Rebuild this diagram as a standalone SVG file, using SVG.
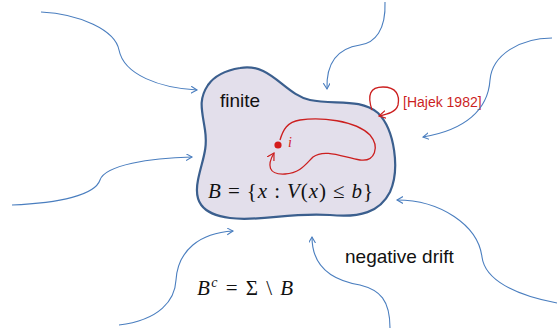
<svg xmlns="http://www.w3.org/2000/svg" width="558" height="334" viewBox="0 0 558 334">
<defs>
<style>
.conn{fill:none;stroke:#4a7ebf;stroke-width:1.1}
.red{fill:none;stroke:#cc1f1f;stroke-width:1.3}
.sans{font-family:"Liberation Sans",Arial,sans-serif;fill:#111}
.math{font-family:"Liberation Serif","Times New Roman",serif;fill:#111;font-size:21px}
.it{font-style:italic}
</style>
<marker id="ab" markerWidth="8" markerHeight="8" refX="6" refY="3.5" orient="auto" markerUnits="userSpaceOnUse">
<path d="M0,0 L6,3.5 L0,7" fill="none" stroke="#4a7ebf" stroke-width="1.1"/>
</marker>
<marker id="ar" markerWidth="9" markerHeight="9" refX="7" refY="4" orient="auto" markerUnits="userSpaceOnUse">
<path d="M0,0 L7,4 L0,8" fill="none" stroke="#cc1f1f" stroke-width="1.2"/>
</marker>
</defs>
<rect width="558" height="334" fill="#ffffff"/>
<g id="region-B">
<path d="M240,68 C270,62 285,95 310,100 C335,105 360,98 378,113 C395,130 400,170 390,192 C380,212 360,218 330,215 C290,212 260,222 230,218 C200,214 194,200 198,180 C202,160 208,150 205,130 C202,110 198,100 208,85 C215,75 228,70 240,68 Z" fill="#e3dfeb" stroke="#3b5f8e" stroke-width="2.2"/>
<text class="sans" x="220" y="107" font-size="19">finite</text>
<text class="math" x="208" y="198" textLength="165" lengthAdjust="spacing"><tspan class="it">B</tspan> = {<tspan class="it">x</tspan> : <tspan class="it">V</tspan>(<tspan class="it">x</tspan>) ≤ <tspan class="it">b</tspan>}</text>
</g>
<g id="trajectory">
<path class="red" d="M280,140 C283,130 287,122 300,120 C320,117 355,120 370,135 C380,147 375,162 360,160 C345,158 325,148 313,157 C305,165 300,173 285,174 C268,175 267,165 274,153" marker-end="url(#ar)"/>
<circle cx="278" cy="145" r="3.6" fill="#d41c1c"/>
<text x="288" y="147" font-family="Liberation Serif,serif" font-style="italic" font-size="14" fill="#d41c1c">i</text>
</g>
<g id="hajek">
<path class="red" d="M372,110 C367,95 370,87 383,87 C396,87 400,95 398,105 C396,112 388,114 379,116" marker-end="url(#ar)"/>
<text x="403" y="107" font-family="Liberation Sans,Arial,sans-serif" font-size="14" fill="#cc1f1f">[Hajek 1982]</text>
</g>
<g id="complement">
<text class="math" x="197" y="295" textLength="96" lengthAdjust="spacing"><tspan class="it">B</tspan><tspan class="it" font-size="14" dy="-8">c</tspan><tspan dy="8"> = Σ \ </tspan><tspan class="it">B</tspan></text>
</g>
<g id="drift">
<text class="sans" x="345" y="263" font-size="19">negative drift</text>
</g>
<g id="connectors">
<path class="conn" d="M41,12 C80,14 115,30 119,50 C124,75 160,88 197,90" marker-end="url(#ab)"/>
<path class="conn" d="M12,205 C60,203 95,195 100,180 C105,165 150,158 192,157" marker-end="url(#ab)"/>
<path class="conn" d="M119,325 C160,320 175,300 176,280 C178,250 200,233 233,231" marker-end="url(#ab)"/>
<path class="conn" d="M385,2 C386,30 375,43 360,45 C340,48 326,60 327,89" marker-end="url(#ab)"/>
<path class="conn" d="M552,38 C520,38 492,55 490,80 C488,110 465,130 423,137" marker-end="url(#ab)"/>
<path class="conn" d="M557,303 C515,295 485,280 482,257 C478,225 440,200 397,200" marker-end="url(#ab)"/>
<path class="conn" d="M390,328 C390,300 380,290 360,285 C330,280 312,265 312,237" marker-end="url(#ab)"/>
</g>
</svg>
